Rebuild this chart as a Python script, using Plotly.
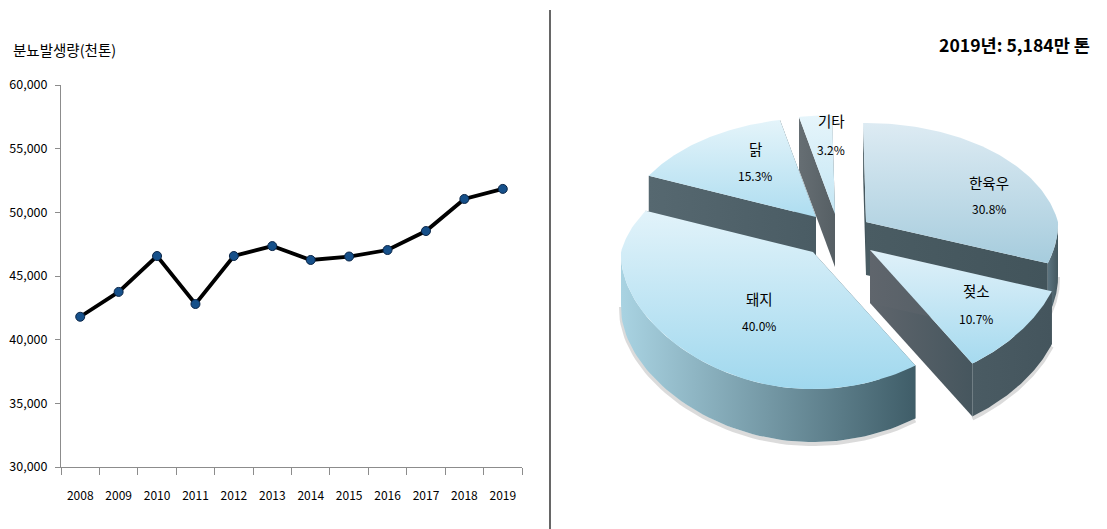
import numpy as np
import plotly.graph_objects as go

W, H = 1107, 529

# Annual manure output (thousand tonnes)
years = ["2008", "2009", "2010", "2011", "2012", "2013", "2014", "2015", "2016", "2017", "2018", "2019"]
output = [41800, 43750, 46570, 42800, 46570, 47350, 46260, 46530, 47040, 48530, 51050, 51840]
y_ticks = [30000, 35000, 40000, 45000, 50000, 55000, 60000]

# 2019 share by livestock type, clockwise from the top of the pie
kinds = ["한육우", "젖소", "돼지", "닭", "기타"]
shares = [30.8, 10.7, 40.0, 15.3, 3.2]

# Exploded 3D pie: perspective ellipse, wedge apexes on the page and slab thickness
RX, RY, PERSP = 192.0, 115.0, 0.161
PERSP_NEAR_X = 0.02
DEPTH = 53
START_DEG = -1.0
APEX = {"한육우": (866, 222), "젖소": (870, 250), "돼지": (813, 252), "닭": (816, 217), "기타": (835, 214)}
LABEL_XY = {"한육우": (989, 184, 210), "젖소": (976, 292, 320), "돼지": (759, 300, 327),
            "닭": (755, 150, 177), "기타": (831, 122, 151)}
TOP_GRAD = {"한육우": ("#DDEBF3", "#A6CCDD"), "젖소": ("#E0F1F9", "#A6DAEF"), "돼지": ("#E2F3FA", "#A0D8EE"),
            "닭": ("#E4F4FA", "#AEDDF0"), "기타": ("#E6F5FB", "#C4E6F4")}
WALL_GRAD = {"한육우": ("#5C7480", "#44585F"), "젖소": ("#4A5B63", "#44555D"), "돼지": ("#A9D3E2", "#3F5D68"),
             "닭": ("#55666D", "#55666D"), "기타": ("#5F6A70", "#5F6A70")}
CUT_GRAD = {"한육우": ("#4A5C63", "#42545B"), "젖소": ("#5F656C", "#46565E"), "돼지": ("#4A5C63", "#4A5C63"),
            "닭": ("#566870", "#4A5C64"), "기타": ("#666E73", "#565F64")}
DRAW_ORDER = ["기타", "닭", "한육우", "젖소", "돼지"]

FONT = "Noto Sans CJK KR, Noto Sans, sans-serif"
TEXT = "#000000"
AXIS = "#8c8c8c"

fig = go.Figure()

# Line chart
fig.add_trace(go.Scatter(
    x=years, y=output, mode="lines+markers", xaxis="x", yaxis="y",
    line=dict(color="#000000", width=3.8),
    marker=dict(size=9, color="#16508A", line=dict(color="#0A2547", width=1)),
    hoverinfo="skip", showlegend=False,
))


def project(apex, deg):
    """Map a pie angle (degrees, clockwise from north) to page coordinates."""
    th = np.radians(deg)
    fx, fy = np.sin(th), np.cos(th)
    ky = 1 + PERSP * fy
    kx = np.where(fy >= 0, ky, 1 + PERSP_NEAR_X * fy)
    return apex[0] + RX * fx / kx, apex[1] - RY * fy / ky


def polygon(xs, ys, grad, kind):
    # A vertical gradient runs bottom-to-top on the page, so its stops are given reversed
    first, last = (grad[1], grad[0]) if kind == "vertical" else grad
    fig.add_trace(go.Scatter(
        x=list(xs), y=list(ys), mode="lines", fill="toself", xaxis="x2", yaxis="y2",
        line=dict(width=0), fillcolor=grad[0],
        fillgradient=dict(type=kind, colorscale=[[0, first], [1, last]]),
        hoverinfo="skip", showlegend=False,
    ))


# Angular span of each wedge, derived from the shares
edges = START_DEG + np.cumsum([0] + shares) * 3.6
spans = {k: (edges[i], edges[i + 1]) for i, k in enumerate(kinds)}

for name in DRAW_ORDER:
    a0, a1 = spans[name]
    apex = APEX[name]
    # Cut faces, extruded downward from the two straight edges
    for ang in (a1, a0):
        ex, ey = project(apex, ang)
        ex, ey = float(ex), float(ey)
        polygon([apex[0], ex, ex, apex[0], apex[0]],
                [apex[1], ey, ey + DEPTH, apex[1] + DEPTH, apex[1]],
                CUT_GRAD[name], "horizontal")
    # Outer wall, only along the near half of the rim
    w0, w1 = max(a0, 90.0), min(a1, 270.0)
    if w1 > w0:
        ang = np.linspace(w0, w1, 60)
        px, py = project(apex, ang)
        # soft contact shadow along the lower rim
        fig.add_trace(go.Scatter(
            x=px, y=py + DEPTH + 2, mode="lines", xaxis="x2", yaxis="y2",
            line=dict(color="rgba(90,90,90,0.22)", width=4),
            hoverinfo="skip", showlegend=False,
        ))
        polygon(np.r_[px, px[::-1], px[0]], np.r_[py, py[::-1] + DEPTH, py[0]], WALL_GRAD[name], "horizontal")
    # Top face
    ang = np.linspace(a0, a1, 90)
    px, py = project(apex, ang)
    polygon(np.r_[apex[0], px, apex[0]], np.r_[apex[1], py, apex[1]], TOP_GRAD[name], "vertical")

annotations = []


def page_text(x, y, text, size, anchor="center", bold=False):
    annotations.append(dict(
        x=x, y=y - 1.5, xref="x2", yref="y2", text=f"<b>{text}</b>" if bold else text, showarrow=False,
        xanchor=anchor, yanchor="middle", xshift=2 if anchor == "right" else (-2 if anchor == "left" else 0),
        font=dict(family=FONT, size=size, color=TEXT),
    ))


for name, share in zip(kinds, shares):
    lx, ly1, ly2 = LABEL_XY[name]
    page_text(lx, ly1, name, 14.5)
    page_text(lx, ly2, f"{share:.1f}%", 12)

page_text(13, 51, "분뇨발생량(천톤)", 14.5, anchor="left")
page_text(1090, 46, "2019년: 5,184만 톤", 17.6, anchor="right", bold=True)

fig.update_layout(
    width=W, height=H,
    margin=dict(l=0, r=0, t=0, b=0),
    paper_bgcolor="#FFFFFF", plot_bgcolor="rgba(0,0,0,0)",
    font=dict(family=FONT, color=TEXT),
    xaxis=dict(
        domain=[61 / W, 522 / W], type="category", range=[-0.5, 11.5], tickson="boundaries", automargin=False,
        ticks="outside", ticklen=7, tickcolor=AXIS, tickwidth=1, showline=True, linecolor=AXIS, linewidth=1,
        showgrid=False, zeroline=False, ticklabelstandoff=18, tickfont=dict(size=12, color=TEXT),
        categoryorder="array", categoryarray=years, anchor="y",
    ),
    yaxis=dict(
        domain=[1 - 467 / H, 1 - 85 / H], range=[30000, 60000], tickvals=y_ticks, tickformat=",d", automargin=False,
        ticks="outside", ticklen=5, tickcolor=AXIS, tickwidth=1, showline=True, linecolor=AXIS, linewidth=1,
        showgrid=False, zeroline=False, ticklabelstandoff=5, tickfont=dict(size=12.5, color=TEXT), anchor="x",
    ),
    # Page-sized overlay axes for the pie and free-standing text
    xaxis2=dict(domain=[0, 1], range=[0, W], visible=False, fixedrange=True, anchor="y2", automargin=False),
    yaxis2=dict(domain=[0, 1], range=[H, 0], visible=False, fixedrange=True, anchor="x2", automargin=False),
    annotations=annotations,
    shapes=[dict(type="line", xref="x2", yref="y2", x0=550, x1=550, y0=10, y1=H,
                 line=dict(color="#000000", width=1.2))],
)

fig.write_html("out.html", config={"displayModeBar": False})
